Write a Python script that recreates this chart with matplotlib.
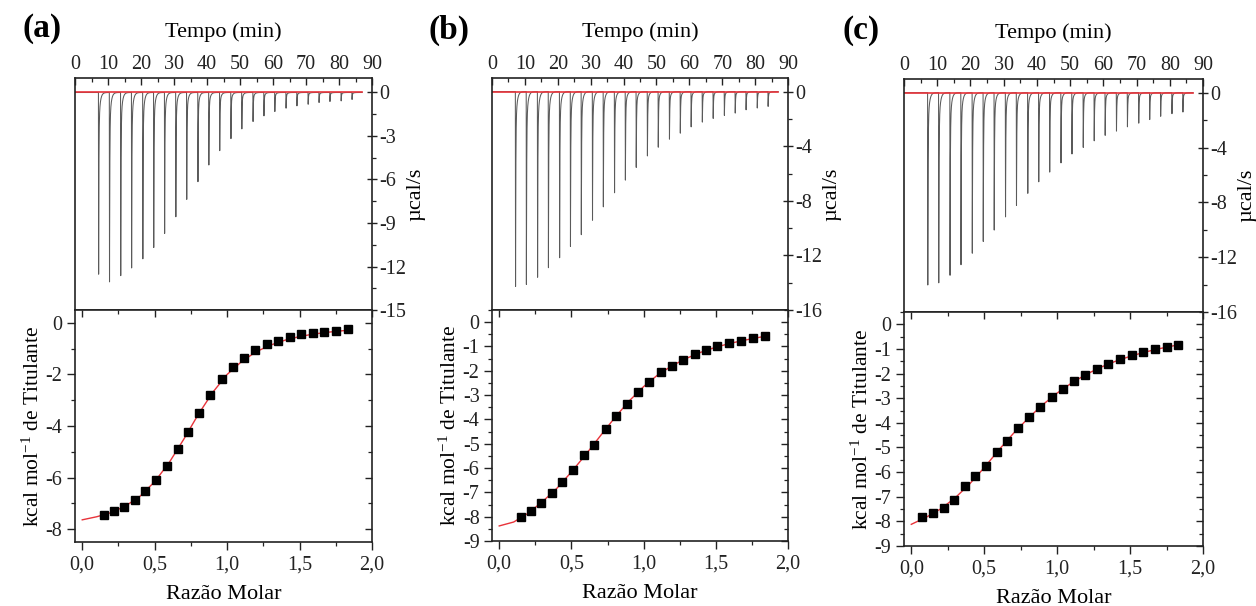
import numpy as np
import matplotlib
matplotlib.use("Agg")
import matplotlib.pyplot as plt
from matplotlib.ticker import MultipleLocator, FuncFormatter

plt.rcParams['font.family'] = ['Liberation Serif', 'DejaVu Serif']
plt.rcParams['mathtext.fontset'] = 'custom'
plt.rcParams['mathtext.rm'] = 'Liberation Serif'
plt.rcParams['mathtext.it'] = 'Liberation Serif:italic'
plt.rcParams['axes.unicode_minus'] = False

# ---------------- data ----------------
panel_labels = ["(a)", "(b)", "(c)"]

# injection times (min), same protocol in all panels
inj_times = [7.1, 10.4, 13.8, 17.1, 20.5, 23.8, 27.1, 30.5, 33.8, 37.2, 40.5, 43.8,
             47.2, 50.5, 53.9, 57.2, 60.5, 63.9, 67.2, 70.6, 73.9, 77.2, 80.6, 83.9]

# peak depths (µcal/s)
peaks_a = [12.53, 13.06, 12.63, 12.10, 11.47, 10.69, 9.72, 8.57, 7.37, 6.15, 5.00, 4.01,
           3.18, 2.51, 2.00, 1.61, 1.31, 1.08, 0.92, 0.81, 0.69, 0.62, 0.58, 0.48]
peaks_b = [14.28, 14.13, 13.60, 12.90, 12.17, 11.34, 10.48, 9.42, 8.44, 7.41, 6.48, 5.55,
           4.71, 4.07, 3.48, 3.04, 2.58, 2.23, 1.96, 1.74, 1.57, 1.33, 1.20, 1.08]
peaks_c = [14.03, 13.87, 13.32, 12.55, 11.71, 10.85, 10.02, 9.06, 8.22, 7.34, 6.50, 5.79,
           5.12, 4.47, 3.99, 3.51, 3.11, 2.80, 2.49, 2.22, 1.96, 1.72, 1.53, 1.41]
baseline_end = 87.0

# integrated heats (kcal/mol of titrant) vs molar ratio
ratio_a = [0.147, 0.219, 0.290, 0.361, 0.433, 0.509, 0.585, 0.658, 0.732, 0.808, 0.884, 0.962,
           1.040, 1.116, 1.194, 1.273, 1.353, 1.431, 1.512, 1.590, 1.671, 1.751, 1.834]
heat_a = [-7.44, -7.28, -7.15, -6.89, -6.54, -6.10, -5.54, -4.91, -4.23, -3.48, -2.81, -2.19,
          -1.70, -1.36, -1.07, -0.83, -0.70, -0.56, -0.45, -0.39, -0.35, -0.31, -0.25]
ratio_b = [0.148, 0.220, 0.291, 0.363, 0.437, 0.511, 0.585, 0.659, 0.738, 0.812, 0.886, 0.962,
           1.038, 1.117, 1.195, 1.274, 1.353, 1.431, 1.510, 1.591, 1.672, 1.755, 1.838]
heat_b = [-8.01, -7.75, -7.42, -7.03, -6.59, -6.06, -5.45, -5.07, -4.41, -3.87, -3.35, -2.87,
          -2.45, -2.07, -1.79, -1.55, -1.32, -1.15, -1.00, -0.87, -0.76, -0.65, -0.56]
ratio_c = [0.075, 0.149, 0.222, 0.293, 0.366, 0.437, 0.510, 0.585, 0.658, 0.734, 0.809, 0.885,
           0.962, 1.040, 1.115, 1.193, 1.271, 1.351, 1.431, 1.511, 1.591, 1.671, 1.751, 1.831]
heat_c = [-7.82, -7.67, -7.47, -7.14, -6.55, -6.17, -5.74, -5.18, -4.72, -4.21, -3.75, -3.34,
          -2.96, -2.63, -2.30, -2.07, -1.83, -1.61, -1.42, -1.24, -1.12, -0.99, -0.91, -0.83]

# fitted curves
fit_x_a = [0.00, 0.10, 0.20, 0.30, 0.40, 0.50, 0.60, 0.70, 0.80, 0.90, 1.00, 1.10, 1.20,
           1.30, 1.40, 1.50, 1.60, 1.70, 1.84]
fit_y_a = [-7.64, -7.52, -7.36, -7.10, -6.72, -6.16, -5.42, -4.52, -3.56, -2.70, -2.00, -1.50,
           -1.12, -0.86, -0.67, -0.53, -0.43, -0.36, -0.28]
fit_x_b = [0.00, 0.10, 0.20, 0.30, 0.40, 0.50, 0.60, 0.70, 0.80, 0.90, 1.00, 1.10, 1.20,
           1.30, 1.40, 1.50, 1.60, 1.70, 1.84]
fit_y_b = [-8.38, -8.22, -7.86, -7.38, -6.83, -6.16, -5.44, -4.68, -3.93, -3.24, -2.65, -2.16,
           -1.78, -1.48, -1.23, -1.03, -0.87, -0.74, -0.58]
fit_x_c = [0.00, 0.10, 0.20, 0.30, 0.40, 0.50, 0.60, 0.70, 0.80, 0.90, 1.00, 1.10, 1.20,
           1.30, 1.40, 1.50, 1.60, 1.70, 1.84]
fit_y_c = [-8.12, -7.84, -7.50, -7.05, -6.48, -5.82, -5.10, -4.43, -3.82, -3.27, -2.79, -2.38,
           -2.03, -1.74, -1.50, -1.30, -1.13, -0.99, -0.82]

top_ylims = [(-15, 1), (-16, 1), (-16, 1)]
top_ymajor = [3, 4, 4]
bot_ylims = [(-8.5, 0.5), (-9, 0.5), (-9, 0.5)]
bot_ymajor = [2, 1, 1]

# axes boxes in pixels: left, right, top-of-top, split, bottom
boxes = [(75, 372, 78, 310, 542), (492, 788, 78, 310, 541), (904, 1203, 79, 312, 546)]
label_px = [(22, 28), (428, 30), (843, 30)]

W, H = 1256, 606
fig = plt.figure(figsize=(W / 100, H / 100), dpi=100)

ink = '#222222'


def thermogram(t, times, depths):
    y = np.zeros_like(t)
    for t0, d in zip(times, depths):
        dt = t - t0
        dive = 0.06
        m = (dt >= 0) & (dt < dive)
        y[m] -= d * dt[m] / dive
        r = dt >= dive
        x = dt[r] - dive
        y[r] -= d * (0.80 * np.exp(-x / 0.08) + 0.20 * np.exp(-x / 0.4))
    return y


peaks_all = [peaks_a, peaks_b, peaks_c]
ratios = [ratio_a, ratio_b, ratio_c]
heats = [heat_a, heat_b, heat_c]
fits = [(fit_x_a, fit_y_a), (fit_x_b, fit_y_b), (fit_x_c, fit_y_c)]

comma = FuncFormatter(lambda v, p: f"{v:.1f}".replace('.', ','))
intfmt = FuncFormatter(lambda v, p: f"{v:.0f}")

TICK_FS = 14.5
LABEL_FS = 16

for k in range(3):
    L, R, T, S, B = boxes[k]
    axt = fig.add_axes([L / W, 1 - S / H, (R - L) / W, (S - T) / H])
    axb = fig.add_axes([L / W, 1 - B / H, (R - L) / W, (B - S) / H])

    # ---- top: raw thermogram ----
    t = np.arange(0, baseline_end, 0.004)
    axt.plot(t, thermogram(t, inj_times, peaks_all[k]), color='#5a5a5a', lw=0.75)
    axt.plot([0, baseline_end], [0, 0], color='#e8333a', lw=1.2)
    axt.set_xlim(0, 90)
    axt.set_ylim(*top_ylims[k])
    axt.xaxis.tick_top()
    axt.xaxis.set_label_position('top')
    axt.yaxis.tick_right()
    axt.yaxis.set_label_position('right')
    axt.xaxis.set_major_locator(MultipleLocator(10))
    axt.xaxis.set_minor_locator(MultipleLocator(5))
    axt.yaxis.set_major_locator(MultipleLocator(top_ymajor[k]))
    axt.yaxis.set_minor_locator(MultipleLocator(top_ymajor[k] / 2))
    axt.xaxis.set_major_formatter(intfmt)
    axt.yaxis.set_major_formatter(intfmt)
    axt.tick_params(axis='x', which='major', direction='in', length=5, width=1.0,
                    labelsize=TICK_FS, pad=3, colors=ink)
    axt.tick_params(axis='x', which='minor', direction='in', length=3, width=0.9, colors=ink)
    axt.tick_params(axis='y', which='major', direction='inout', length=7, width=1.0,
                    labelsize=TICK_FS, pad=2, colors=ink)
    axt.tick_params(axis='y', which='minor', direction='out', length=3, width=0.9, colors=ink)
    axt.set_xlabel('Tempo (min)', fontsize=LABEL_FS, labelpad=13)
    axt.set_ylabel('µcal/s', fontsize=LABEL_FS, labelpad=0)
    for sp in axt.spines.values():
        sp.set_linewidth(1.2)
        sp.set_color(ink)

    # ---- bottom: integrated heats ----
    fx, fy = fits[k]
    axb.plot(fx, fy, color='#e8333a', lw=1.0, zorder=2)
    axb.plot(ratios[k], heats[k], 's', color='black', ms=6.2, zorder=3)
    axb.set_xlim(-0.05, 2.0)
    axb.set_ylim(*bot_ylims[k])
    axb.xaxis.set_major_locator(MultipleLocator(0.5))
    axb.xaxis.set_minor_locator(MultipleLocator(0.25))
    axb.yaxis.set_major_locator(MultipleLocator(bot_ymajor[k]))
    axb.yaxis.set_minor_locator(MultipleLocator(bot_ymajor[k] / 2))
    axb.xaxis.set_major_formatter(comma)
    axb.yaxis.set_major_formatter(intfmt)
    axb.tick_params(which='major', direction='out', length=6, width=1.0, labelsize=TICK_FS,
                    colors=ink, top=False, right=False)
    axb.tick_params(which='minor', direction='out', length=3, width=0.9, colors=ink,
                    top=False, right=False)
    axb.tick_params(axis='x', which='major', pad=4)
    axb.tick_params(axis='y', which='major', pad=3)
    # inward ticks on the top and right sides
    sec_x = axb.secondary_xaxis('top')
    sec_x.xaxis.set_major_locator(MultipleLocator(0.5))
    sec_x.xaxis.set_minor_locator(MultipleLocator(0.25))
    sec_x.tick_params(which='major', direction='in', length=5, width=1.0, labeltop=False, colors=ink)
    sec_x.tick_params(which='minor', direction='in', length=3, width=0.9, colors=ink)
    sec_x.spines['top'].set_visible(False)
    sec_y = axb.secondary_yaxis('right')
    sec_y.yaxis.set_major_locator(MultipleLocator(bot_ymajor[k]))
    sec_y.yaxis.set_minor_locator(MultipleLocator(bot_ymajor[k] / 2))
    sec_y.tick_params(which='major', direction='in', length=5, width=1.0, labelright=False, colors=ink)
    sec_y.tick_params(which='minor', direction='in', length=3, width=0.9, colors=ink)
    sec_y.spines['right'].set_visible(False)
    axb.set_xlabel('Razão Molar', fontsize=LABEL_FS, labelpad=7)
    axb.set_ylabel(r'kcal mol$^{-1}$ de Titulante', fontsize=15.5, labelpad=1)
    for sp in axb.spines.values():
        sp.set_linewidth(1.2)
        sp.set_color(ink)

    lx, ly = label_px[k]
    fig.text(lx / W, 1 - ly / H, panel_labels[k], fontsize=24, fontweight='bold',
             ha='left', va='center')

fig.savefig('out.png', dpi=100, facecolor='white')
